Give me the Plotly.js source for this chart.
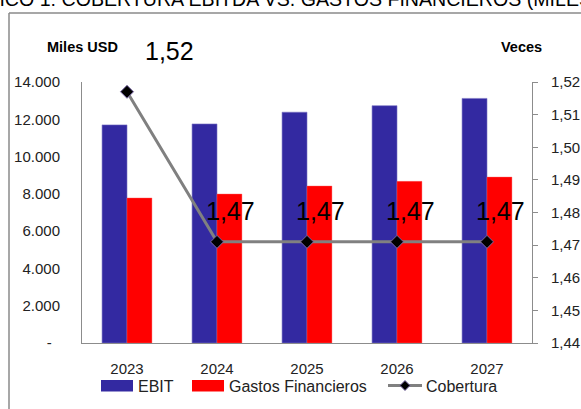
<!DOCTYPE html>
<html>
<head>
<meta charset="utf-8">
<script src="https://cdn.plot.ly/plotly-3.0.1.min.js"></script>
<style>html,body{margin:0;padding:0;background:#fff;}#chart{width:581px;height:409px;}</style>
</head>
<body>
<div id="chart"></div>
<script>
// ---- data ----
const years = ['2023', '2024', '2025', '2026', '2027'];
const ebit = [11700, 11750, 12380, 12730, 13120];
const gastosFinancieros = [7780, 7990, 8420, 8670, 8900];
const cobertura = [1.517, 1.471, 1.471, 1.471, 1.471];
const seriesNames = ['EBIT', 'Gastos Financieros', 'Cobertura'];
const leftTickVals = [0, 2000, 4000, 6000, 8000, 10000, 12000, 14000];
const leftTickText = ['-\u00a0\u00a0', '2.000', '4.000', '6.000', '8.000', '10.000', '12.000', '14.000'];
const chartTitle = 'GRÁFICO 1: COBERTURA EBITDA VS. GASTOS FINANCIEROS (MILES USD)';

// ---- geometry helpers (pixel -> paper) ----
const W = 581, H = 409, L = 82, R = 49, T = 82, B = 66;
const PW = W - L - R, PH = H - T - B;
const px = x => (x - L) / PW;
const py = y => (H - B - y) / PH;

const BLUE = '#3329A1', RED = '#FF0000', GRAY = '#808080';
const MAIN = 'Liberation Sans, Arial, sans-serif';

const traces = [
  {type: 'bar', name: seriesNames[0], x: years, y: ebit, marker: {color: BLUE, line: {color: '#7b74c4', width: 0.6}}, showlegend: false},
  {type: 'bar', name: seriesNames[1], x: years, y: gastosFinancieros, marker: {color: RED, line: {color: '#ff6060', width: 0.4}}, showlegend: false},
  {type: 'scatter', mode: 'lines+markers', name: seriesNames[2], x: years, y: cobertura, yaxis: 'y2',
   line: {color: GRAY, width: 3}, marker: {symbol: 'diamond', size: 10, color: '#000', line: {color: '#7a68a8', width: 1}}, showlegend: false}
];

const annotations = cobertura.map((v, i) => ({
  xref: 'x', yref: 'y2', x: i, y: v, text: v.toFixed(2).replace('.', ','),
  showarrow: false, xanchor: 'center', yanchor: 'middle',
  xshift: i === 0 ? 42 : 13, yshift: i === 0 ? 41 : 31,
  font: {family: MAIN, size: 25, color: '#000'}
}));

annotations.push(
  {xref: 'paper', yref: 'paper', x: px(-57), y: py(-1), xanchor: 'left', yanchor: 'middle', text: chartTitle,
   showarrow: false, font: {family: MAIN, size: 19.6, color: '#000'}},
  {xref: 'paper', yref: 'paper', x: px(82), y: py(47), xanchor: 'center', yanchor: 'middle', text: '<b>Miles USD</b>',
   showarrow: false, font: {family: MAIN, size: 14.5, color: '#000'}},
  {xref: 'paper', yref: 'paper', x: px(521), y: py(47), xanchor: 'center', yanchor: 'middle', text: '<b>Veces</b>',
   showarrow: false, font: {family: MAIN, size: 14.5, color: '#000'}},
  // legend labels
  {xref: 'paper', yref: 'paper', x: px(136), y: py(386), xanchor: 'left', yanchor: 'middle', text: seriesNames[0],
   showarrow: false, font: {family: MAIN, size: 16, color: '#222'}},
  {xref: 'paper', yref: 'paper', x: px(227), y: py(386), xanchor: 'left', yanchor: 'middle', text: seriesNames[1],
   showarrow: false, font: {family: MAIN, size: 16, color: '#222'}},
  {xref: 'paper', yref: 'paper', x: px(424), y: py(386), xanchor: 'left', yanchor: 'middle', text: seriesNames[2],
   showarrow: false, font: {family: MAIN, size: 16, color: '#222'}}
);

const shapes = [
  // outer frame (top & left visible)
  {type: 'line', xref: 'paper', yref: 'paper', x0: px(9), x1: px(590), y0: py(13), y1: py(13), line: {color: '#8a8a8a', width: 1.5}},
  {type: 'line', xref: 'paper', yref: 'paper', x0: px(9), x1: px(9), y0: py(13), y1: py(420), line: {color: '#8a8a8a', width: 1.5}},
  // legend swatches
  {type: 'rect', xref: 'paper', yref: 'paper', x0: px(101), x1: px(133), y0: py(380), y1: py(391.5), fillcolor: BLUE, line: {width: 0}},
  {type: 'rect', xref: 'paper', yref: 'paper', x0: px(192), x1: px(224), y0: py(380), y1: py(391.5), fillcolor: RED, line: {width: 0}},
  {type: 'line', xref: 'paper', yref: 'paper', x0: px(388), x1: px(422), y0: py(385.5), y1: py(385.5), line: {color: GRAY, width: 3}},
  {type: 'path', xref: 'paper', yref: 'paper',
   path: `M ${px(405)} ${py(380.5)} L ${px(410)} ${py(385.5)} L ${px(405)} ${py(390.5)} L ${px(400)} ${py(385.5)} Z`,
   fillcolor: '#000', line: {color: '#7a68a8', width: 1}}
];

const layout = {
  width: W, height: H, autosize: false,
  margin: {l: L, r: R, t: T, b: B, pad: 0},
  paper_bgcolor: '#fff', plot_bgcolor: '#fff',
  separators: ',.',
  barmode: 'group', bargap: 0.446, bargroupgap: 0,
  showlegend: false,
  font: {family: MAIN, color: '#222'},
  xaxis: {type: 'category', categoryorder: 'array', categoryarray: years, range: [-0.5, 4.5], autorange: false,
          showline: true, linecolor: '#8c8c8c', linewidth: 1,
          ticks: '', showgrid: false, zeroline: false, tickfont: {family: MAIN, size: 15, color: '#222'}, ticklabelstandoff: 12},
  yaxis: {range: [0, 14000], autorange: false, tickvals: leftTickVals, ticktext: leftTickText, showline: true, linecolor: '#8c8c8c', linewidth: 1,
          ticks: '', showgrid: false, zeroline: false, tickfont: {family: MAIN, size: 15, color: '#222'}, ticklabelstandoff: 18},
  yaxis2: {range: [1.44, 1.52], autorange: false, dtick: 0.01, tick0: 1.44, tickformat: '.2f', overlaying: 'y', side: 'right',
           showline: true, linecolor: '#8c8c8c', linewidth: 1, ticks: 'outside', ticklen: 5, tickcolor: '#8c8c8c',
           showgrid: false, zeroline: false, tickfont: {family: MAIN, size: 15, color: '#222'}, ticklabelstandoff: 10},
  annotations: annotations,
  shapes: shapes
};

Plotly.newPlot('chart', traces, layout, {displayModeBar: false, staticPlot: true});
</script>
</body>
</html>
